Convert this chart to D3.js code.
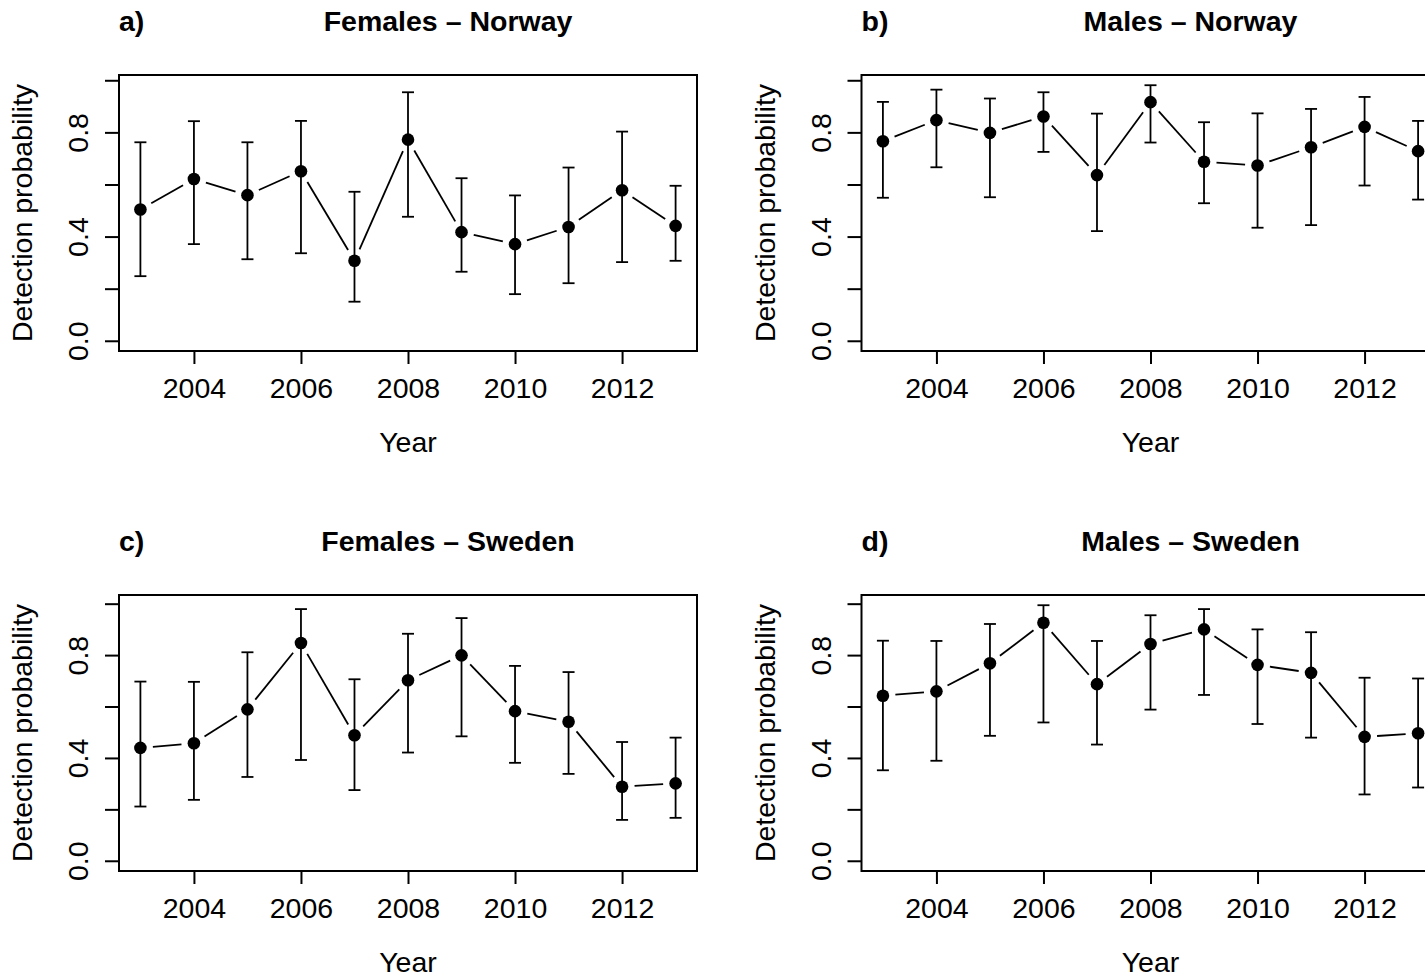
<!DOCTYPE html>
<html>
<head>
<meta charset="utf-8">
<script src="https://cdn.jsdelivr.net/npm/d3@7"></script>
<style>
    body { margin: 0; background: #fff; }
    svg { display: block; }
    text { font-family: "Liberation Sans", Arial, Helvetica, sans-serif; fill: #000; }
</style>
</head>
<body>
<div id="chart"></div>
<script>
const years = [2003, 2004, 2005, 2006, 2007, 2008, 2009, 2010, 2011, 2012, 2013];

// estimates + 95% intervals
const femNorwayEst = [0.504, 0.621, 0.559, 0.651, 0.307, 0.772, 0.417, 0.371, 0.437, 0.578, 0.441];
const femNorwayLo = [0.248, 0.371, 0.313, 0.336, 0.150, 0.476, 0.265, 0.179, 0.221, 0.302, 0.307];
const femNorwayHi = [0.762, 0.843, 0.762, 0.844, 0.572, 0.954, 0.624, 0.558, 0.665, 0.803, 0.595];

const maleNorwayEst = [0.766, 0.847, 0.798, 0.861, 0.636, 0.916, 0.687, 0.673, 0.743, 0.821, 0.728];
const maleNorwayLo = [0.549, 0.666, 0.551, 0.725, 0.421, 0.761, 0.528, 0.434, 0.444, 0.596, 0.542];
const maleNorwayHi = [0.917, 0.964, 0.930, 0.954, 0.872, 0.981, 0.839, 0.873, 0.890, 0.936, 0.844];

const femSwedenEst = [0.439, 0.457, 0.589, 0.847, 0.488, 0.702, 0.799, 0.582, 0.541, 0.288, 0.301];
const femSwedenLo = [0.211, 0.237, 0.326, 0.392, 0.275, 0.421, 0.484, 0.381, 0.338, 0.159, 0.167];
const femSwedenHi = [0.697, 0.696, 0.811, 0.979, 0.706, 0.883, 0.944, 0.758, 0.734, 0.462, 0.479];

const maleSwedenEst = [0.642, 0.659, 0.768, 0.926, 0.687, 0.843, 0.900, 0.762, 0.731, 0.482, 0.496];
const maleSwedenLo = [0.352, 0.389, 0.486, 0.538, 0.452, 0.588, 0.645, 0.532, 0.479, 0.258, 0.285];
const maleSwedenHi = [0.856, 0.855, 0.921, 0.994, 0.855, 0.955, 0.979, 0.900, 0.889, 0.712, 0.709];

const xTicks = [2004, 2006, 2008, 2010, 2012];
const yTicks = [0, 0.2, 0.4, 0.6, 0.8, 1.0];
const yLabelled = [0, 0.4, 0.8];

const panels = [
    { tag: "a)", title: "Females \u2013 Norway", est: femNorwayEst, lo: femNorwayLo, hi: femNorwayHi, col: 0, row: 0, country: "N" },
    { tag: "b)", title: "Males \u2013 Norway", est: maleNorwayEst, lo: maleNorwayLo, hi: maleNorwayHi, col: 1, row: 0, country: "N" },
    { tag: "c)", title: "Females \u2013 Sweden", est: femSwedenEst, lo: femSwedenLo, hi: femSwedenHi, col: 0, row: 1, country: "S" },
    { tag: "d)", title: "Males \u2013 Sweden", est: maleSwedenEst, lo: maleSwedenLo, hi: maleSwedenHi, col: 1, row: 1, country: "S" }
];

const width = 1425,
    height = 979,
    colW = 742.5,
    rowH = 520,
    box = { left: 119, right: 697, top: 75, bottom: 351 },
    fs = 28.5;

const svg = d3.select("#chart").append("svg")
    .attr("width", width)
    .attr("height", height);

// R style ylim: shared per country, 0 .. max upper bound
const countryMax = {};
for (let p of panels) {
    countryMax[p.country] = Math.max(countryMax[p.country] || 0, d3.max(p.hi));
}

const xExt = d3.extent(years);
const xPad = (xExt[1] - xExt[0]) * 0.04;

panels.forEach((p) => {
    const g = svg.append("g")
        .attr("transform", `translate(${p.col * colW},${p.row * rowH})`);

    const ymax = countryMax[p.country];
    const x = d3.scaleLinear()
        .domain([xExt[0] - xPad, xExt[1] + xPad])
        .range([box.left, box.right]);
    const y = d3.scaleLinear()
        .domain([-0.04 * ymax, 1.04 * ymax])
        .range([box.bottom, box.top]);

    // box
    g.append("rect")
        .attr("x", box.left).attr("y", box.top)
        .attr("width", box.right - box.left)
        .attr("height", box.bottom - box.top)
        .attr("fill", "none").attr("stroke", "#000").attr("stroke-width", 2);

    // x axis
    const xa = g.append("g")
        .attr("transform", `translate(0,${box.bottom})`)
        .call(d3.axisBottom(x).tickValues(xTicks).tickFormat(d3.format("d")).tickSize(13));
    xa.select(".domain").remove();
    xa.selectAll("line").attr("stroke", "#000").attr("stroke-width", 2);
    xa.selectAll("text")
        .attr("y", 47).attr("dy", 0)
        .attr("font-size", fs)
        .style("font-family", "'Liberation Sans', Arial, sans-serif");

    // y axis
    const ya = g.append("g")
        .attr("transform", `translate(${box.left},0)`)
        .call(d3.axisLeft(y).tickValues(yTicks.filter((v) => v <= y.domain()[1]))
            .tickFormat((d) => yLabelled.some((v) => Math.abs(v - d) < 1e-9) ? d3.format(".1f")(d) : "")
            .tickSize(14));
    ya.select(".domain").remove();
    ya.selectAll("line").attr("stroke", "#000").attr("stroke-width", 2);
    ya.selectAll("text")
        .attr("x", 0).attr("dy", 0)
        .attr("text-anchor", "middle")
        .attr("transform", "translate(-31,0) rotate(-90)")
        .attr("font-size", fs)
        .style("font-family", "'Liberation Sans', Arial, sans-serif");

    // axis titles
    g.append("text")
        .attr("x", (box.left + box.right) / 2)
        .attr("y", 452)
        .attr("text-anchor", "middle")
        .attr("font-size", fs)
        .text("Year");
    g.append("text")
        .attr("transform", `translate(32,${(box.top + box.bottom) / 2}) rotate(-90)`)
        .attr("text-anchor", "middle")
        .attr("font-size", fs)
        .text("Detection probability");

    // panel letter + title
    g.append("text")
        .attr("x", box.left).attr("y", 31)
        .attr("font-size", fs).attr("font-weight", "bold")
        .text(p.tag);
    g.append("text")
        .attr("x", box.left + 329).attr("y", 31)
        .attr("text-anchor", "middle")
        .attr("font-size", fs).attr("font-weight", "bold")
        .text(p.title);

    const pts = years.map((yr, i) => ({ yr: yr, est: p.est[i], lo: p.lo[i], hi: p.hi[i] }));

    // error bars
    const eb = g.append("g").attr("stroke", "#000").attr("stroke-width", 1.8);
    eb.selectAll("line.v").data(pts).join("line")
        .attr("class", "v")
        .attr("x1", (d) => x(d.yr)).attr("x2", (d) => x(d.yr))
        .attr("y1", (d) => y(d.lo)).attr("y2", (d) => y(d.hi));
    eb.selectAll("line.capHi").data(pts).join("line")
        .attr("class", "capHi")
        .attr("x1", (d) => x(d.yr) - 6).attr("x2", (d) => x(d.yr) + 6)
        .attr("y1", (d) => y(d.hi)).attr("y2", (d) => y(d.hi));
    eb.selectAll("line.capLo").data(pts).join("line")
        .attr("class", "capLo")
        .attr("x1", (d) => x(d.yr) - 6).attr("x2", (d) => x(d.yr) + 6)
        .attr("y1", (d) => y(d.lo)).attr("y2", (d) => y(d.lo));

    // type = "b" connecting segments, with a gap around each point
    const gap = 12.5;
    const segs = d3.pairs(pts).map(([a, b]) => {
        const x0 = x(a.yr), y0 = y(a.est), x1 = x(b.yr), y1 = y(b.est);
        const len = Math.hypot(x1 - x0, y1 - y0);
        const ux = (x1 - x0) / len, uy = (y1 - y0) / len;
        return { x0: x0 + ux * gap, y0: y0 + uy * gap, x1: x1 - ux * gap, y1: y1 - uy * gap, ok: len > 2 * gap };
    }).filter((s) => s.ok);
    g.append("g").attr("stroke", "#000").attr("stroke-width", 1.8)
        .selectAll("line").data(segs).join("line")
        .attr("x1", (d) => d.x0).attr("y1", (d) => d.y0)
        .attr("x2", (d) => d.x1).attr("y2", (d) => d.y1);

    // points
    g.append("g").selectAll("circle").data(pts).join("circle")
        .attr("cx", (d) => x(d.yr))
        .attr("cy", (d) => y(d.est))
        .attr("r", 6.3)
        .attr("fill", "#000");
});
</script>
</body>
</html>
